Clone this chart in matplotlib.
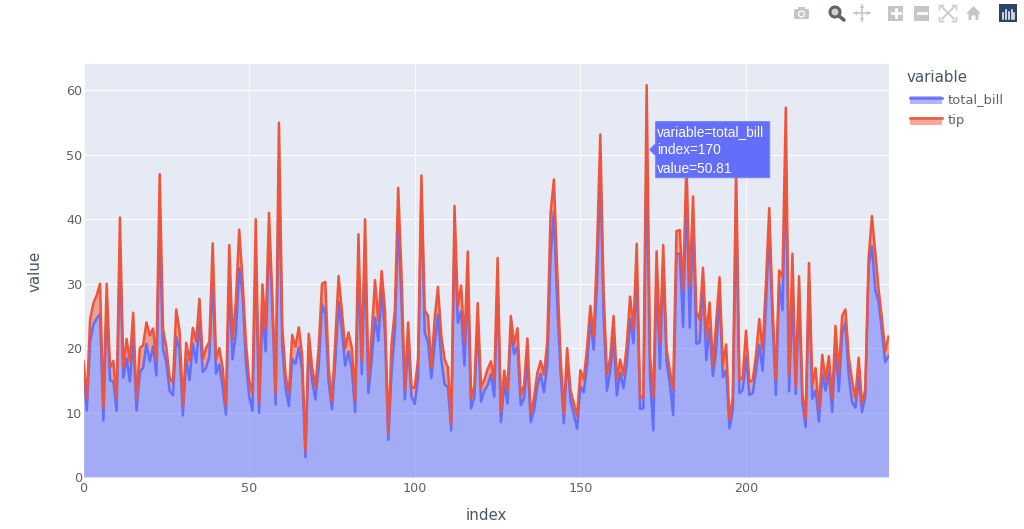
import numpy as np
import matplotlib
matplotlib.use("Agg")
import matplotlib.pyplot as plt
from matplotlib.patches import Rectangle, Circle, Polygon, FancyBboxPatch

total_bill = [16.99,10.34,21.01,23.68,24.59,25.29,8.77,26.88,15.04,14.78,10.27,35.26,15.42,18.43,14.83,21.58,10.33,16.29,16.97,20.65,
17.92,20.29,15.77,39.42,19.82,17.81,13.37,12.69,21.7,19.65,9.55,18.35,15.06,20.69,17.78,24.06,16.31,16.93,18.69,31.27,
16.04,17.46,13.94,9.68,30.4,18.29,22.23,32.4,28.55,18.04,12.54,10.29,34.81,9.94,25.56,19.49,38.01,26.41,11.24,48.27,
20.29,13.81,11.02,18.29,17.59,20.08,16.45,3.07,20.23,15.01,12.02,17.07,26.86,25.28,14.73,10.51,17.92,27.2,22.76,17.29,
19.44,16.66,10.07,32.68,15.98,34.83,13.03,18.28,24.71,21.16,28.97,22.49,5.75,16.32,22.75,40.17,27.28,12.03,21.01,12.46,
11.35,15.38,44.3,22.42,20.92,15.36,20.49,25.21,18.24,14.31,14.0,7.25,38.07,23.95,25.71,17.31,29.93,10.65,12.43,24.08,
11.69,13.42,14.26,15.95,12.48,29.8,8.52,14.52,11.38,22.82,19.08,20.27,11.17,12.26,18.26,8.51,10.33,14.15,16.0,13.16,
17.47,34.3,41.19,27.05,16.43,8.35,18.64,11.87,9.78,7.51,14.07,13.13,17.26,24.55,19.77,29.85,48.17,25.0,13.39,16.49,
21.5,12.66,16.21,13.81,17.51,24.52,20.76,31.71,10.59,10.63,50.81,15.81,7.25,31.85,16.82,32.9,17.89,14.48,9.6,34.63,
34.65,23.33,45.35,23.17,40.55,20.69,20.9,30.46,18.15,23.1,15.69,19.81,28.44,15.48,16.58,7.56,10.34,43.11,13.0,13.51,
18.71,12.74,13.0,16.4,20.53,16.47,26.59,38.73,24.27,12.76,30.06,25.89,48.33,13.27,28.17,12.9,28.15,11.59,7.74,30.14,
12.16,13.42,8.58,15.98,13.42,16.27,10.09,20.45,13.28,22.12,24.01,15.69,11.61,10.77,15.53,10.07,12.6,32.83,35.83,29.03,
27.18,22.67,17.82,18.78]
tip = [1.01,1.66,3.5,3.31,3.61,4.71,2.0,3.12,1.96,3.23,1.71,5.0,1.57,3.0,3.02,3.92,1.67,3.71,3.5,3.35,
4.08,2.75,2.23,7.58,3.18,2.34,2.0,2.0,4.3,3.0,1.45,2.5,3.0,2.45,3.27,3.6,2.0,3.07,2.31,5.0,
2.24,2.54,3.06,1.32,5.6,3.0,5.0,6.0,2.05,3.0,2.5,2.6,5.2,1.56,4.34,3.51,3.0,1.5,1.76,6.73,
3.21,2.0,1.98,3.76,2.64,3.15,2.47,1.0,2.01,2.09,1.97,3.0,3.14,5.0,2.2,1.25,3.08,4.0,3.0,2.71,
3.0,3.4,1.83,5.0,2.03,5.17,2.0,4.0,5.85,3.0,3.0,3.5,1.0,4.3,3.25,4.73,4.0,1.5,3.0,1.5,
2.5,3.0,2.5,3.48,4.08,1.64,4.06,4.29,3.76,4.0,3.0,1.0,4.0,2.55,4.0,3.5,5.07,1.5,1.8,2.92,
2.31,1.68,2.5,2.0,2.52,4.2,1.48,2.0,2.0,2.18,1.5,2.83,1.5,2.0,3.25,1.25,2.0,2.0,2.0,2.75,
3.5,6.7,5.0,5.0,2.3,1.5,1.36,1.63,1.73,2.0,2.5,2.0,2.74,2.0,2.0,5.14,5.0,3.75,2.61,2.0,
3.5,2.5,2.0,2.0,3.0,3.48,2.24,4.5,1.61,2.0,10.0,3.16,5.15,3.18,4.0,3.11,2.0,2.0,4.0,3.55,
3.68,5.65,3.5,6.5,3.0,5.0,3.5,2.0,3.5,4.0,1.5,4.19,2.56,2.02,4.0,1.44,2.0,5.0,2.0,2.0,
4.0,2.01,2.0,2.5,4.0,3.23,3.41,3.0,2.03,2.23,2.0,5.16,9.0,2.5,6.5,1.1,3.0,1.5,1.44,3.09,
2.2,3.48,1.92,3.0,1.58,2.5,2.0,3.0,2.72,2.88,2.0,3.0,3.39,1.47,3.0,1.25,1.0,1.17,4.67,5.92,
2.0,2.0,1.75,3.0]
x_ticks = [0, 50, 100, 150, 200]
y_ticks = [0, 10, 20, 30, 40, 50, 60]
series_names = ["total_bill", "tip"]
hover_lines = ["variable=total_bill", "index=170", "value=50.81"]
hover_index = 170

BLUE = "#636EFA"; RED = "#EF553B"; TXT = "#5c6268"; TITLE = "#4b5563"; W, H = 1024, 529
plt.rcParams["font.family"] = ["DejaVu Sans"]
fig = plt.figure(figsize=(W/100, H/100), dpi=100, facecolor="white")
L, R, T, B = 83.5, 888.5, 64, 477
ax = fig.add_axes([L/W, 1-B/H, (R-L)/W, (B-T)/H], facecolor="#E5EAF4")
idx = np.arange(len(total_bill))
tb = np.array(total_bill); stack = tb + np.array(tip)
ax.set_axisbelow(True)
ax.grid(axis="y", color="white", lw=0.8)
ax.grid(axis="x", color="white", lw=0.7, alpha=.8)
ax.fill_between(idx, 0, tb, color=BLUE, alpha=.5, lw=0, zorder=2)
ax.fill_between(idx, tb, stack, color=RED, alpha=.5, lw=0, zorder=2)
ax.plot(idx, tb, color=BLUE, lw=1.8, zorder=3)
ax.plot(idx, stack, color=RED, lw=1.8, zorder=4)
ax.set_xlim(0, 243); ax.set_ylim(0, 64.1)
ax.set_xticks(x_ticks); ax.set_yticks(y_ticks)
ax.tick_params(length=0, labelsize=9.2, labelcolor=TXT)
ax.tick_params(axis="x", pad=3.6)
ax.tick_params(axis="y", pad=1.0)
for s in ax.spines.values(): s.set_visible(False)
ax.set_xlabel("index", fontsize=10.8, color=TITLE, va="center")
ax.set_ylabel("value", fontsize=10.8, color=TITLE, va="center")
ax.xaxis.set_label_coords((486-L)/(R-L), (B-516)/(B-T))
ax.yaxis.set_label_coords((35-L)/(R-L), (B-271)/(B-T))

# hover label anchored to the data point
hx, hy = ax.transData.transform((hover_index, total_bill[hover_index]))
ov = fig.add_axes([0, 0, 1, 1], facecolor="none")
ov.set_xlim(0, W); ov.set_ylim(H, 0); ov.axis("off")
hpx, hpy = hx, H - hy
ov.add_patch(Polygon([(hpx+3, hpy), (hpx+9, hpy-6), (hpx+9, hpy-28), (hpx+123, hpy-28),
                      (hpx+123, hpy+28), (hpx+9, hpy+28), (hpx+9, hpy+6)], closed=True,
                     fc=BLUE, ec="#7a83fb", lw=.8, zorder=5))
for i, s in enumerate(hover_lines):
    ov.text(hpx+10, hpy-18+18.7*i, s, color="white", fontsize=9.9, family="Liberation Sans",
            va="center", ha="left", zorder=6)

# legend
ov.text(907, 78, "variable", fontsize=10.8, color=TITLE, va="center")
for name, col, y in zip(series_names, [BLUE, RED], [100, 120.5]):
    ov.add_patch(Rectangle((910, y-4), 32, 8, fc=col, alpha=.5, lw=0))
    ov.plot([910, 942], [y-2.5, y-2.5], color=col, lw=1.8)
    ov.text(948, y, name, fontsize=9.4, color=TXT, va="center")

# toolbar
G = "#c4c6c8"; D = "#5f6468"
ov.add_patch(FancyBboxPatch((794, 9), 15, 10, boxstyle="round,pad=0,rounding_size=1.5", fc=G, lw=0))
ov.add_patch(Rectangle((798, 7), 7, 3, fc=G, lw=0))
ov.add_patch(Circle((801.5, 14), 3.6, fc="white", ec="none"))
ov.add_patch(Circle((801.5, 14), 2.3, fc=G, ec="none"))
ov.add_patch(Circle((835, 12), 5, fc="#d0d2d4", ec=D, lw=2.2))
ov.plot([839, 844], [16, 20], color=D, lw=2.6, solid_capstyle="round")
ov.plot([854, 870], [13, 13], color=G, lw=1.2); ov.plot([862, 862], [5, 21], color=G, lw=1.2)
for a, b, c in [((854,13),(857,10.5),(857,15.5)), ((870,13),(867,10.5),(867,15.5)),
                ((862,5),(859.5,8),(864.5,8)), ((862,21),(859.5,18),(864.5,18))]:
    ov.add_patch(Polygon([a, b, c], fc=G, lw=0))
for x0, plus in [(888, True), (914, False)]:
    ov.add_patch(Rectangle((x0, 5.5), 15, 15, fc=G, lw=0))
    ov.plot([x0+3.5, x0+11.5], [13, 13], color="white", lw=2)
    if plus: ov.plot([x0+7.5, x0+7.5], [9, 17], color="white", lw=2)
ov.plot([942, 954], [7, 19], color=G, lw=1.2); ov.plot([942, 954], [19, 7], color=G, lw=1.2)
for cx, cy, dx, dy in [(939,5,1,1),(956,5,-1,1),(939,21,1,-1),(956,21,-1,-1)]:
    ov.plot([cx+dx*4, cx, cx], [cy, cy, cy+dy*4], color=G, lw=1)
ov.add_patch(Polygon([(966,13.5),(973.5,6),(981,13.5),(978.5,13.5),(978.5,20),(975.5,20),(975.5,15.5),
                      (971.5,15.5),(971.5,20),(968.5,20),(968.5,13.5)], fc=G, lw=0))
ov.add_patch(Rectangle((999, 4), 18, 18, fc="#2f4468", lw=0))
for x0, y0 in zip([1002.5, 1005.5, 1008.5, 1011.5, 1014], [13, 10, 12, 10, 13]):
    ov.plot([x0, x0], [y0, 19], color="white", lw=1.1)

fig.savefig("out.png", dpi=100)
